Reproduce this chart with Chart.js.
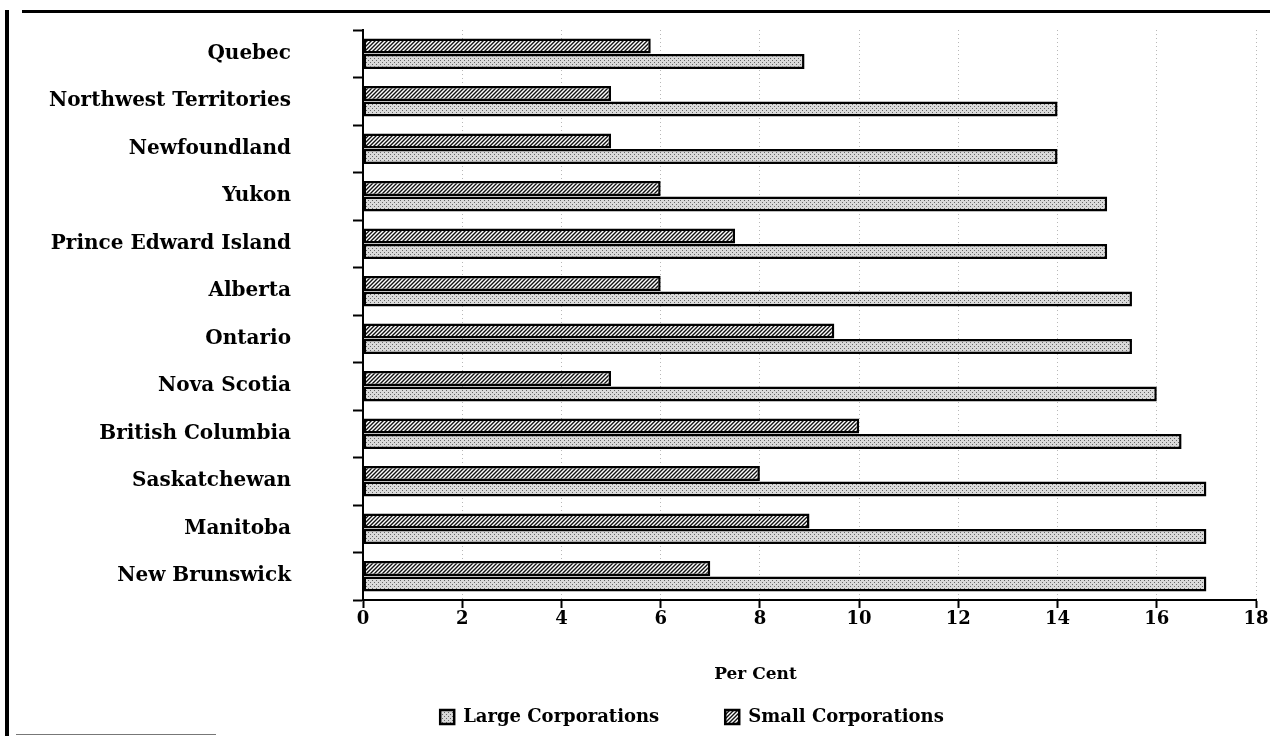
<!DOCTYPE html>
<html>
<head>
<meta charset="utf-8">
<script src="https://cdn.jsdelivr.net/npm/chart.js@4.4.0/dist/chart.umd.min.js"></script>
<style>
  body { margin: 0; background: #fff; }
  #wrap { position: relative; width: 1270px; height: 736px; }
  #leftRule { position: absolute; left: 5px; top: 10px; width: 4px; height: 726px; background: #000; }
  #topRule { position: absolute; left: 22px; top: 10px; width: 1248px; height: 3px; background: #000; }
  #bottomRule { position: absolute; left: 16px; top: 734px; width: 200px; height: 1px; background: #777; }
  canvas { position: absolute; left: 0; top: 0; }
</style>
</head>
<body>
<div id="wrap">
  <canvas id="chart" width="1270" height="736"></canvas>
  <div id="leftRule"></div>
  <div id="topRule"></div>
  <div id="bottomRule"></div>
</div>
<script>
// Corporate income tax rates by province, per cent
const provinces = ['Quebec', 'Northwest Territories', 'Newfoundland', 'Yukon',
    'Prince Edward Island', 'Alberta', 'Ontario', 'Nova Scotia',
    'British Columbia', 'Saskatchewan', 'Manitoba', 'New Brunswick'];
const smallCorp = [5.8, 5, 5, 6, 7.5, 6, 9.5, 5, 10, 8, 9, 7];
const largeCorp = [8.9, 14, 14, 15, 15, 15.5, 15.5, 16, 16.5, 17, 17, 17];
const xTicks = [0, 2, 4, 6, 8, 10, 12, 14, 16, 18];

const serif = '"DejaVu Serif", "Liberation Serif", serif';

// hatch pattern: black diagonal lines on white
function makeHatch() {
    const c = document.createElement('canvas');
    c.width = 4; c.height = 4;
    const g = c.getContext('2d');
    g.fillStyle = '#fff';
    g.fillRect(0, 0, 4, 4);
    g.strokeStyle = '#111';
    g.lineWidth = 1.4;
    g.beginPath();
    g.moveTo(0, 4); g.lineTo(4, 0);
    g.moveTo(-1, 1); g.lineTo(1, -1);
    g.moveTo(3, 5); g.lineTo(5, 3);
    g.stroke();
    return g.createPattern(c, 'repeat');
}

// stipple pattern: grey dots on light background
function makeDots() {
    const c = document.createElement('canvas');
    c.width = 4; c.height = 4;
    const g = c.getContext('2d');
    g.fillStyle = '#dadada';
    g.fillRect(0, 0, 4, 4);
    g.fillStyle = '#666';
    g.fillRect(0, 0, 1, 1);
    g.fillRect(2, 2, 1, 1);
    return g.createPattern(c, 'repeat');
}

// in the original the legend sits right of the page centre
// and the axis title left of the plot centre
const nudges = {
    id: 'nudges',
    afterLayout(chart) {
        const lg = chart.legend;
        if (lg) { lg.left += 64; lg.right += 64; }
        const sx = chart.scales.x;
        if (sx && !sx._titleNudged) {
            const orig = sx.drawTitle.bind(sx);
            sx.drawTitle = function() {
                this.ctx.save();
                this.ctx.translate(-54, 0);
                orig();
                this.ctx.restore();
            };
            sx._titleNudged = true;
        }
    }
};

const ctx = document.getElementById('chart').getContext('2d');

new Chart(ctx, {
    type: 'bar',
    data: {
        labels: provinces,
        datasets: [{
            label: 'Small Corporations',
            data: smallCorp,
            backgroundColor: makeHatch(),
            borderColor: '#000',
            borderWidth: 2.5,
            borderSkipped: false,
            barPercentage: 0.96,
            categoryPercentage: 0.66
        }, {
            label: 'Large Corporations',
            data: largeCorp,
            backgroundColor: makeDots(),
            borderColor: '#000',
            borderWidth: 2.5,
            borderSkipped: false,
            barPercentage: 0.96,
            categoryPercentage: 0.66
        }]
    },
    options: {
        indexAxis: 'y',
        responsive: false,
        animation: false,
        layout: {
            padding: { top: 30, right: 14, bottom: 0, left: 0 }
        },
        scales: {
            x: {
                min: 0,
                max: 18,
                afterBuildTicks: function(axis) {
                    axis.ticks = xTicks.map(v => ({ value: v }));
                },
                afterFit: function(axis) { axis.height = 42; },
                grid: {
                    color: '#b8b8b8',
                    lineWidth: 1,
                    tickColor: '#000',
                    tickWidth: 2,
                    tickLength: 8,
                    tickBorderDash: []
                },
                border: { display: true, color: '#000', width: 2, dash: [1, 3] },
                ticks: {
                    color: '#000',
                    padding: 1,
                    font: { family: serif, size: 18, weight: 'bold' }
                },
                title: {
                    display: true,
                    text: 'Per Cent',
                    color: '#000',
                    // title sits down in the legend's top padding
                    padding: { top: 0, bottom: -43 },
                    font: { family: serif, size: 17, weight: 'bold' }
                }
            },
            y: {
                afterFit: function(axis) {
                    axis.width = 363;
                    axis.paddingTop = 0;
                    axis.paddingBottom = 0;
                },
                grid: {
                    drawOnChartArea: false,
                    offset: true,
                    tickColor: '#000',
                    tickWidth: 2,
                    tickLength: 10
                },
                border: { display: true, color: '#000', width: 2 },
                ticks: {
                    color: '#000',
                    padding: 62,
                    font: { family: serif, size: 20, weight: 'bold' }
                }
            }
        },
        plugins: {
            legend: {
                position: 'bottom',
                reverse: true,
                labels: {
                    color: '#000',
                    boxWidth: 14,
                    boxHeight: 14,
                    padding: 66,
                    font: { family: serif, size: 18, weight: 'bold' }
                }
            },
            tooltip: { enabled: false }
        }
    },
    plugins: [nudges]
});
</script>
</body>
</html>
